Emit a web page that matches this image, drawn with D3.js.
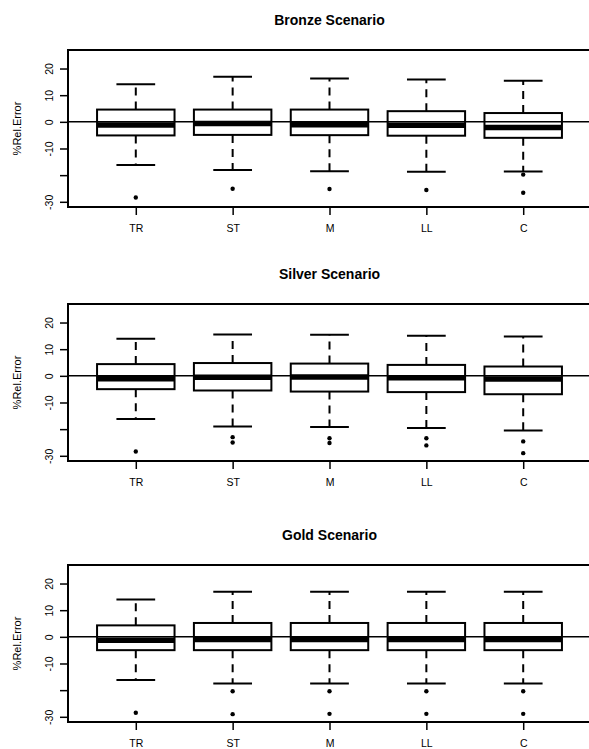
<!DOCTYPE html>
<html>
<head>
<meta charset="utf-8">
<script src="https://cdn.jsdelivr.net/npm/d3@7"></script>
<style>
  body { margin: 0; background: #fff; }
  svg { display: block; font-family: 'Liberation Sans', Arial, sans-serif; }
</style>
</head>
<body>
<div id="chart"></div>
<script>
// categories and panel titles
const categories = ['TR', 'ST', 'M', 'LL', 'C'];
const scenarios = ['Bronze Scenario', 'Silver Scenario', 'Gold Scenario'];
const yTicks = [-30, -20, -10, 0, 10, 20];
const yTickLabels = ['-30', '', '-10', '0', '10', '20'];

// five-number summaries: [lower whisker, q1, median, q3, upper whisker]
const bronzeStats = [
  [-16.2, -5.1, -1.2, 4.6, 14.1],
  [-18.1, -4.9, -0.6, 4.6, 16.9],
  [-18.5, -5.0, -1.1, 4.6, 16.3],
  [-18.7, -5.2, -1.3, 4.0, 15.9],
  [-18.6, -6.0, -2.1, 3.3, 15.4]
];
const bronzeOutliers = [[-28.4], [-25.1], [-25.2], [-25.6], [-19.8, -26.6]];

const silverStats = [
  [-16.2, -5.0, -1.1, 4.4, 13.9],
  [-19.0, -5.5, -0.5, 4.8, 15.5],
  [-19.2, -5.9, -0.4, 4.6, 15.4],
  [-19.6, -6.1, -0.7, 4.1, 15.0],
  [-20.5, -6.9, -1.2, 3.5, 14.8]
];
const silverOutliers = [[-28.4], [-23.0, -25.0], [-23.4, -25.2], [-23.4, -26.1], [-24.6, -29.0]];

const goldStats = [
  [-16.2, -5.0, -1.3, 4.3, 14.0],
  [-17.5, -5.0, -1.0, 5.2, 16.9],
  [-17.5, -5.0, -1.0, 5.2, 16.9],
  [-17.5, -5.0, -1.0, 5.2, 16.9],
  [-17.5, -5.0, -1.0, 5.2, 16.9]
];
const goldOutliers = [[-28.5], [-20.4, -29.0], [-20.4, -28.9], [-20.4, -28.9], [-20.4, -28.9]];

const width = 589;
const height = 749;
const margin = { left: 68, right: -2 };
const panelTops = [50, 304, 565];
const panelHeight = 157;

const svg = d3.select('#chart')
  .append('svg')
  .attr('width', width)
  .attr('height', height);

svg.append('rect')
  .attr('width', width)
  .attr('height', height)
  .attr('fill', '#fff');

// R style x range: 0.5..5.5 padded by 4%
const x = d3.scaleLinear()
  .domain([0.3, 5.7])
  .range([margin.left, width - margin.right]);

function drawPanel(title, stats, outliers, top) {
  const y = d3.scaleLinear()
    .domain([-31.95, 26.95])
    .range([top + panelHeight, top]);

  const g = svg.append('g');

  g.append('text')
    .attr('x', (x.range()[0] + x.range()[1]) / 2)
    .attr('y', top - 25)
    .attr('text-anchor', 'middle')
    .attr('font-size', '14px')
    .attr('font-weight', 'bold')
    .text(title);

  // y axis, labels parallel to the axis
  const yAxis = g.append('g')
    .attr('transform', 'translate(' + x.range()[0] + ',0)')
    .call(d3.axisLeft(y).tickValues(yTicks)
      .tickFormat((d, i) => yTickLabels[i])
      .tickSize(8).tickSizeOuter(0));
  yAxis.select('.domain').remove();
  yAxis.selectAll('line').attr('stroke', '#000').attr('stroke-width', 1.5);
  yAxis.selectAll('text')
    .attr('x', null)
    .attr('dy', null)
    .attr('transform', 'translate(-15,0) rotate(-90)')
    .attr('text-anchor', 'middle')
    .attr('font-size', '10.5px')
    .attr('fill', '#000');

  g.append('text')
    .attr('transform', 'translate(21,' + (top + panelHeight / 2) + ') rotate(-90)')
    .attr('text-anchor', 'middle')
    .attr('font-size', '11px')
    .text('%Rel.Error');

  // x axis
  const xAxis = g.append('g')
    .attr('transform', 'translate(0,' + (top + panelHeight) + ')')
    .call(d3.axisBottom(x).tickValues(d3.range(1, categories.length + 1))
      .tickFormat(d => categories[d - 1])
      .tickSize(8).tickPadding(10).tickSizeOuter(0));
  xAxis.select('.domain').remove();
  xAxis.selectAll('line').attr('stroke', '#000').attr('stroke-width', 1.5);
  xAxis.selectAll('text').attr('font-size', '10.5px').attr('fill', '#000');

  const boxes = g.selectAll('.box')
    .data(stats)
    .enter()
    .append('g')
    .attr('class', 'box');

  const pos = (d, i) => i + 1;

  // whiskers
  boxes.append('line')
    .attr('x1', (d, i) => x(pos(d, i)))
    .attr('x2', (d, i) => x(pos(d, i)))
    .attr('y1', d => y(d[3]))
    .attr('y2', d => y(d[4]))
    .attr('stroke', '#000')
    .attr('stroke-width', 2)
    .attr('stroke-dasharray', '8,6');
  boxes.append('line')
    .attr('x1', (d, i) => x(pos(d, i)))
    .attr('x2', (d, i) => x(pos(d, i)))
    .attr('y1', d => y(d[1]))
    .attr('y2', d => y(d[0]))
    .attr('stroke', '#000')
    .attr('stroke-width', 2)
    .attr('stroke-dasharray', '8,6');

  // staples
  [0, 4].forEach(k => {
    boxes.append('line')
      .attr('x1', (d, i) => x(pos(d, i) - 0.2))
      .attr('x2', (d, i) => x(pos(d, i) + 0.2))
      .attr('y1', d => y(d[k]))
      .attr('y2', d => y(d[k]))
      .attr('stroke', '#000')
      .attr('stroke-width', 2);
  });

  boxes.append('rect')
    .attr('x', (d, i) => x(pos(d, i) - 0.4))
    .attr('width', x(1.4) - x(0.6))
    .attr('y', d => y(d[3]))
    .attr('height', d => y(d[1]) - y(d[3]))
    .attr('fill', 'none')
    .attr('stroke', '#000')
    .attr('stroke-width', 2);

  boxes.append('line')
    .attr('x1', (d, i) => x(pos(d, i) - 0.4))
    .attr('x2', (d, i) => x(pos(d, i) + 0.4))
    .attr('y1', d => y(d[2]))
    .attr('y2', d => y(d[2]))
    .attr('stroke', '#000')
    .attr('stroke-width', 5.5);

  // outliers
  boxes.each(function (d, i) {
    d3.select(this).selectAll('circle')
      .data(outliers[i])
      .enter()
      .append('circle')
      .attr('cx', x(i + 1))
      .attr('cy', v => y(v))
      .attr('r', 2.2)
      .attr('fill', '#000');
  });

  // reference line at zero
  g.append('line')
    .attr('x1', x.range()[0])
    .attr('x2', x.range()[1])
    .attr('y1', y(0))
    .attr('y2', y(0))
    .attr('stroke', '#000')
    .attr('stroke-width', 1.5);

  // frame
  g.append('rect')
    .attr('x', x.range()[0])
    .attr('y', top)
    .attr('width', x.range()[1] - x.range()[0])
    .attr('height', panelHeight)
    .attr('fill', 'none')
    .attr('stroke', '#000')
    .attr('stroke-width', 2);
}

drawPanel(scenarios[0], bronzeStats, bronzeOutliers, panelTops[0]);
drawPanel(scenarios[1], silverStats, silverOutliers, panelTops[1]);
drawPanel(scenarios[2], goldStats, goldOutliers, panelTops[2]);
</script>
</body>
</html>
